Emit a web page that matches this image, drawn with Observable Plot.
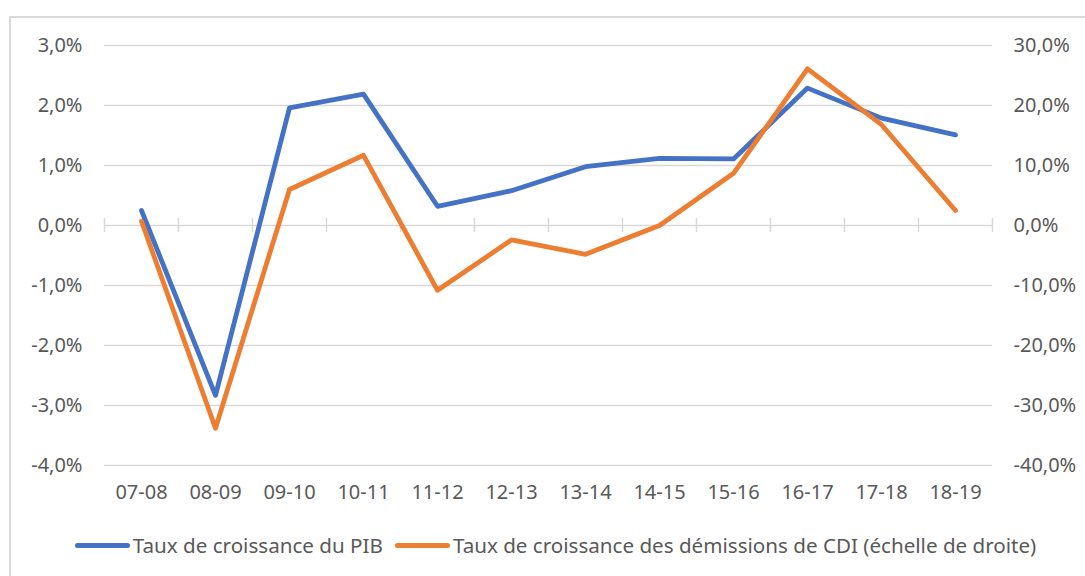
<!DOCTYPE html>
<html>
<head>
<meta charset="utf-8">
<script src="https://cdn.jsdelivr.net/npm/d3@7"></script>
<script src="https://cdn.jsdelivr.net/npm/@observablehq/plot@0.6"></script>
<style>
  html, body { margin: 0; padding: 0; background: #fff; }
  body { width: 1085px; height: 576px; position: relative; overflow: hidden; font-family: "Noto Sans", sans-serif; }
  #frame { position: absolute; left: 9px; top: 16px; width: 1200px; height: 700px; border-left: 2px solid #d9d9d9; border-top: 2px solid #d9d9d9; box-sizing: border-box; }
  #chart { position: absolute; left: 0; top: 0; }
  #legend { position: absolute; left: 13px; top: 531px; width: 1085px; display: flex; justify-content: center; align-items: center; font-size: 20.6px; color: #595959; }
  .sw { display: inline-block; width: 55px; height: 5px; border-radius: 3px; margin-right: 3px; }
  .item { display: flex; align-items: center; margin: 0 6px; }
</style>
</head>
<body>
<div id="frame"></div>
<div id="chart"></div>
<div id="legend"></div>
<script>
const categories = ["07-08","08-09","09-10","10-11","11-12","12-13","13-14","14-15","15-16","16-17","17-18","18-19"];
// Taux de croissance du PIB (%, left axis)
const pib = [0.25, -2.83, 1.96, 2.19, 0.32, 0.58, 0.98, 1.12, 1.11, 2.29, 1.79, 1.51];
// Taux de croissance des démissions de CDI (%, right axis)
const cdi = [0.7, -33.8, 6.0, 11.7, -10.8, -2.4, -4.8, 0.0, 8.7, 26.1, 16.8, 2.5];
const leftTicks = [-4, -3, -2, -1, 0, 1, 2, 3];
const rightTicks = [-40, -30, -20, -10, 0, 10, 20, 30];
const seriesNames = ["Taux de croissance du PIB", "Taux de croissance des démissions de CDI (échelle de droite)"];
const colors = ["#4472C4", "#ED7D31"];

const ratio = 10; // right axis / left axis
const fmt = v => `${v.toFixed(1).replace(".", ",")}%`;
const idx = categories.map((c, i) => i);
const bounds = d3.range(categories.length + 1).map(i => i - 0.5);

const pibData = pib.map((v, i) => ({i, v}));
const cdiData = cdi.map((v, i) => ({i, v}));

const chart = Plot.plot({
  width: 1085,
  height: 515,
  marginLeft: 104,
  marginRight: 93,
  marginTop: 45,
  marginBottom: 50,
  style: {fontFamily: "'Noto Sans', sans-serif", fontSize: "20px", color: "#595959", background: "transparent"},
  x: {type: "linear", domain: [-0.5, categories.length - 0.5]},
  y: {domain: [leftTicks[0], leftTicks[leftTicks.length - 1]]},
  marks: [
    Plot.ruleY(leftTicks.filter(d => d !== 0), {stroke: "#d9d9d9", strokeWidth: 1.5}),
    Plot.ruleY([0], {stroke: "#d9d9d9", strokeWidth: 1.5}),
    Plot.ruleX(bounds, {x: d => d, y1: 0, y2: 0, insetTop: -7, insetBottom: -7, stroke: "#d9d9d9", strokeWidth: 1.5}),
    Plot.axisY({anchor: "left", ticks: leftTicks, tickFormat: fmt, tickSize: 0, tickPadding: 22, fill: "#595959", label: null}),
    Plot.axisY({anchor: "right", ticks: rightTicks.map(t => t / ratio), tickFormat: d => fmt(d * ratio), tickSize: 0, tickPadding: 21, fill: "#595959", label: null}),
    Plot.axisX({ticks: idx, tickFormat: i => categories[i], tickSize: 0, tickPadding: 19, fill: "#595959", label: null}),
    Plot.line(pibData, {x: "i", y: "v", stroke: colors[0], strokeWidth: 4.8, strokeLinejoin: "round", strokeLinecap: "round"}),
    Plot.line(cdiData, {x: "i", y: d => d.v / ratio, stroke: colors[1], strokeWidth: 4.8, strokeLinejoin: "round", strokeLinecap: "round"})
  ]
});
document.getElementById("chart").appendChild(chart);

const legend = document.getElementById("legend");
seriesNames.forEach((name, k) => {
  const item = document.createElement("div");
  item.className = "item";
  const sw = document.createElement("span");
  sw.className = "sw";
  sw.style.background = colors[k];
  const t = document.createElement("span");
  t.textContent = name;
  item.appendChild(sw);
  item.appendChild(t);
  legend.appendChild(item);
});
</script>
</body>
</html>
